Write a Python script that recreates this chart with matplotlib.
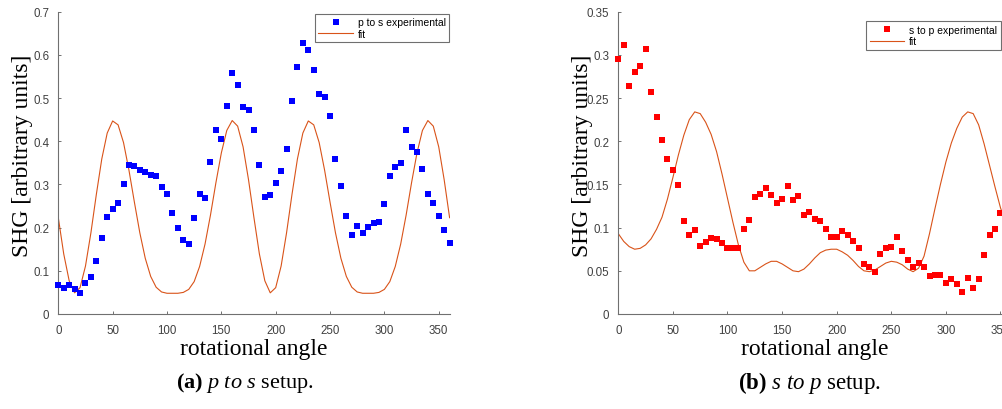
import matplotlib
matplotlib.use("Agg")
import matplotlib.pyplot as plt

# measured every 5 degrees
angles = list(range(0, 361, 5))
angles_sp = list(range(0, 356, 5))

ps_exp = [0.066, 0.061, 0.068, 0.059, 0.048, 0.071, 0.085, 0.122, 0.177, 0.225,
          0.244, 0.257, 0.302, 0.346, 0.342, 0.333, 0.329, 0.323, 0.319, 0.294,
          0.278, 0.235, 0.199, 0.171, 0.161, 0.223, 0.279, 0.269, 0.352, 0.427,
          0.405, 0.482, 0.559, 0.531, 0.479, 0.473, 0.427, 0.345, 0.272, 0.276,
          0.303, 0.331, 0.383, 0.493, 0.572, 0.628, 0.612, 0.566, 0.510, 0.503,
          0.459, 0.359, 0.297, 0.228, 0.184, 0.203, 0.187, 0.202, 0.211, 0.214,
          0.254, 0.319, 0.340, 0.350, 0.427, 0.386, 0.374, 0.335, 0.278, 0.258,
          0.226, 0.195, 0.164]

ps_fit = [0.223, 0.139, 0.077, 0.049, 0.061, 0.111, 0.188, 0.277, 0.359, 0.419,
          0.447, 0.438, 0.397, 0.333, 0.259, 0.188, 0.129, 0.087, 0.062, 0.051,
          0.048, 0.048, 0.048, 0.050, 0.057, 0.075, 0.110, 0.162, 0.229, 0.304,
          0.373, 0.425, 0.448, 0.435, 0.387, 0.311,
          0.223, 0.139, 0.077, 0.049, 0.061, 0.111, 0.188, 0.277, 0.359, 0.419,
          0.447, 0.438, 0.397, 0.333, 0.259, 0.188, 0.129, 0.087, 0.062, 0.051,
          0.048, 0.048, 0.048, 0.050, 0.057, 0.075, 0.110, 0.162, 0.229, 0.304,
          0.373, 0.425, 0.448, 0.435, 0.387, 0.311, 0.223]

sp_exp = [0.295, 0.312, 0.264, 0.280, 0.287, 0.307, 0.257, 0.228, 0.202, 0.179,
          0.167, 0.149, 0.108, 0.092, 0.097, 0.079, 0.083, 0.088, 0.087, 0.082,
          0.076, 0.076, 0.076, 0.098, 0.109, 0.135, 0.139, 0.146, 0.138, 0.129,
          0.133, 0.148, 0.132, 0.137, 0.115, 0.118, 0.110, 0.108, 0.098, 0.089,
          0.089, 0.096, 0.091, 0.085, 0.076, 0.058, 0.054, 0.049, 0.069, 0.076,
          0.078, 0.089, 0.073, 0.062, 0.054, 0.059, 0.054, 0.044, 0.045, 0.045,
          0.036, 0.041, 0.035, 0.025, 0.042, 0.030, 0.041, 0.068, 0.092, 0.098,
          0.117, 0.161]

sp_fit = [0.093, 0.084, 0.078, 0.075, 0.076, 0.080, 0.087, 0.098, 0.112, 0.133,
          0.158, 0.184, 0.207, 0.225, 0.234, 0.232, 0.222, 0.208, 0.188, 0.162,
          0.134, 0.106, 0.080, 0.060, 0.050, 0.050, 0.054, 0.058, 0.061, 0.061,
          0.058, 0.054, 0.050, 0.049, 0.052, 0.058, 0.065, 0.071, 0.074, 0.075,
          0.075, 0.072, 0.068, 0.062, 0.055, 0.050, 0.049, 0.051, 0.055, 0.059,
          0.061, 0.060, 0.057, 0.052, 0.049, 0.053, 0.067, 0.093, 0.122, 0.150,
          0.176, 0.198, 0.215, 0.228, 0.234, 0.232, 0.219, 0.197, 0.172, 0.147,
          0.123, 0.105, 0.093]

xticks = [0, 50, 100, 150, 200, 250, 300, 350]
ps_yticks = [0, 0.1, 0.2, 0.3, 0.4, 0.5, 0.6, 0.7]
ps_ylabels = ['0', '0.1', '0.2', '0.3', '0.4', '0.5', '0.6', '0.7']
sp_yticks = [0, 0.05, 0.1, 0.15, 0.2, 0.25, 0.3, 0.35]
sp_ylabels = ['0', '0.05', '0.1', '0.15', '0.2', '0.25', '0.3', '0.35']

plt.rcParams['mathtext.fontset'] = 'custom'
plt.rcParams['mathtext.rm'] = 'Liberation Serif'
plt.rcParams['mathtext.it'] = 'Liberation Serif:italic'
plt.rcParams['mathtext.bf'] = 'Liberation Serif:bold'

W, H = 1003, 410
fit_color = '#D95319'
axis_color = '#707070'

fig = plt.figure(figsize=(W / 100, H / 100), dpi=100)
ax1 = fig.add_axes([58.3 / W, 95 / H, 391.3 / W, 302.3 / H])
ax2 = fig.add_axes([618.3 / W, 95 / H, 393.1 / W, 302.3 / H])


def style_axes(ax, yticks, ylabels, ymax):
    ax.set_xlim(0, 360)
    ax.set_ylim(0, ymax)
    ax.set_xticks(xticks)
    ax.set_xticklabels([str(t) for t in xticks])
    ax.set_yticks(yticks)
    ax.set_yticklabels(ylabels)
    for side in ['top', 'right']:
        ax.spines[side].set_visible(False)
    for side in ['left', 'bottom']:
        ax.spines[side].set_color(axis_color)
        ax.spines[side].set_linewidth(0.8)
    ax.tick_params(direction='in', length=2.5, width=0.7, color=axis_color,
                   labelcolor='#404040', labelsize=8.3)
    ax.tick_params(axis='y', pad=6.5)
    ax.tick_params(axis='x', pad=7.5)
    for lab in ax.get_xticklabels() + ax.get_yticklabels():
        lab.set_fontfamily('Liberation Sans')
    ax.set_xlabel('rotational angle', family='Liberation Serif', fontsize=17)
    ax.set_ylabel('SHG [arbitrary units]', family='Liberation Serif', fontsize=17)
    ax.xaxis.set_label_coords(0.5, -0.078)
    ax.yaxis.set_label_coords(-0.064, 0.526)


ax1.plot(angles, ps_exp, 's', color='blue', markersize=4.2, markeredgewidth=0,
         label='p to s experimental', clip_on=False, zorder=3)
ax1.plot(angles, ps_fit, '-', color=fit_color, linewidth=0.8, label='fit')
style_axes(ax1, ps_yticks, ps_ylabels, 0.7)

ax2.plot(angles_sp, sp_exp, 's', color='red', markersize=4.2, markeredgewidth=0,
         label='s to p experimental', clip_on=False, zorder=3)
ax2.plot(angles, sp_fit, '-', color=fit_color, linewidth=0.8, label='fit')
style_axes(ax2, sp_yticks, sp_ylabels, 0.35)


def add_legend(ax, right_px, top_px):
    leg = ax.legend(loc='upper right', bbox_to_anchor=(right_px / W, 1 - top_px / H),
                    bbox_transform=fig.transFigure,
                    prop={'family': 'Liberation Sans', 'size': 7.5},
                    fancybox=False, edgecolor='#6f6f6f', framealpha=1,
                    borderaxespad=0, borderpad=0.32, handlelength=3.3,
                    handletextpad=0.5, labelspacing=0.15, numpoints=1)
    leg.get_frame().set_linewidth(0.8)


add_legend(ax1, 449.3, 15)
add_legend(ax2, 1000.7, 22.3)

fig.text(245 / W, 1 - 383 / H, r'$\mathbf{(a)}$ $\mathit{p\ to\ s}$ setup.',
         family='Liberation Serif', fontsize=16, ha='center', va='center')
fig.text(810 / W, 1 - 383 / H, r'$\mathbf{(b)}$ $\mathit{s\ to\ p}$ setup.',
         family='Liberation Serif', fontsize=16.5, ha='center', va='center')

fig.savefig('out.png', dpi=100)
